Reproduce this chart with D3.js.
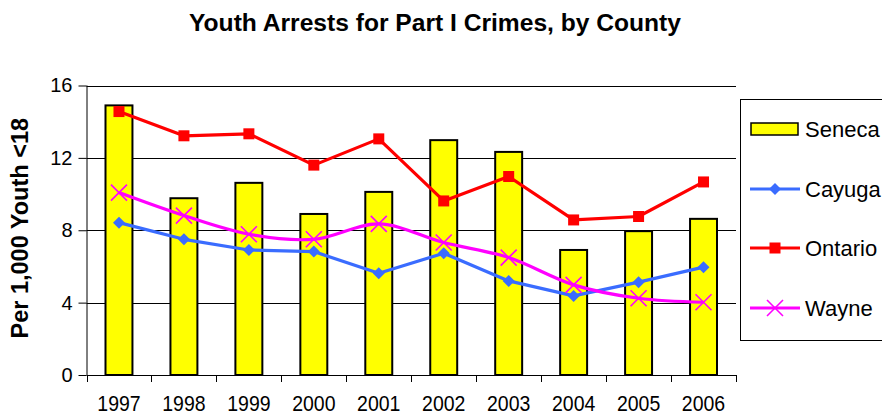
<!DOCTYPE html>
<html>
<head>
<meta charset="utf-8">
<script src="https://cdn.jsdelivr.net/npm/d3@7"></script>
<style>
  html, body { margin: 0; padding: 0; background: #fff; }
  svg { display: block; font-family: Arial, "Liberation Sans", sans-serif; }
</style>
</head>
<body>
<svg id="chart" width="882" height="419"></svg>
<script>
const years = ["1997","1998","1999","2000","2001","2002","2003","2004","2005","2006"];
const seneca  = [14.9, 9.77, 10.62, 8.9, 10.12, 12.98, 12.33, 6.91, 7.95, 8.63];
const cayuga  = [8.42, 7.5, 6.91, 6.82, 5.62, 6.73, 5.2, 4.37, 5.13, 5.96];
const ontario = [14.56, 13.22, 13.33, 11.6, 13.05, 9.62, 10.97, 8.57, 8.76, 10.67];
const wayne   = [10.08, 8.81, 7.78, 7.5, 8.35, 7.32, 6.49, 4.98, 4.24, 4.02];
const yTicks  = [0, 4, 8, 12, 16];
const title = "Youth Arrests for Part I Crimes, by County";
const yTitle = "Per 1,000 Youth <18";

const svg = d3.select("#chart");
const L = 86.5, R = 736, T = 85.5, B = 375;

const x = d3.scaleBand().domain(years).range([L, R]).padding(0);
const y = d3.scaleLinear().domain([0, 16]).range([B, T]);

// title
svg.append("text").attr("x", 435).attr("y", 31).attr("text-anchor", "middle")
  .attr("font-weight", "bold").attr("font-size", 24.6).text(title);

// y axis title
svg.append("text").attr("transform", `translate(28,${(T+B)/2 - 2}) rotate(-90)`)
  .attr("text-anchor", "middle").attr("font-weight", "bold").attr("font-size", 23.5)
  .text(yTitle);

// gridlines
svg.append("g").selectAll("line").data(yTicks.filter(d => d > 0)).join("line")
  .attr("x1", L).attr("x2", R)
  .attr("y1", d => Math.round(y(d)) + 0.5).attr("y2", d => Math.round(y(d)) + 0.5)
  .attr("stroke", "#000").attr("stroke-width", 1);

// bars
const barW = x.bandwidth() * 0.415;
svg.append("g").selectAll("rect").data(seneca).join("rect")
  .attr("x", (d, i) => x(years[i]) + (x.bandwidth() - barW) / 2)
  .attr("y", d => y(d))
  .attr("width", barW)
  .attr("height", d => B - y(d))
  .attr("fill", "#ffff00").attr("stroke", "#000").attr("stroke-width", 2);

// y axis
const yAxis = svg.append("g").attr("transform", `translate(${L},0)`)
  .call(d3.axisLeft(y).tickValues(yTicks).tickSize(8).tickPadding(6).tickFormat(d3.format("d")));
yAxis.select(".domain").attr("stroke", "#000").attr("d", `M0.5,${T}V${B}`);
yAxis.selectAll(".tick line").attr("stroke", "#000");
yAxis.selectAll(".tick text").attr("font-size", 20).attr("fill", "#000")
  .attr("font-family", "Arial, 'Liberation Sans', sans-serif");

// x axis (ticks at category boundaries)
const xg = svg.append("g");
xg.append("line").attr("x1", L).attr("x2", R).attr("y1", B + 0.5).attr("y2", B + 0.5)
  .attr("stroke", "#000");
const bounds = years.map(d => x(d)).concat([R]);
xg.selectAll("line.tk").data(bounds).join("line").attr("class", "tk")
  .attr("x1", d => Math.round(d) + 0.5).attr("x2", d => Math.round(d) + 0.5)
  .attr("y1", B).attr("y2", B + 7).attr("stroke", "#000");
xg.selectAll("text").data(years).join("text")
  .attr("transform", d => `translate(${x(d) + x.bandwidth() / 2},411) scale(1,1.1)`)
  .attr("text-anchor", "middle").attr("font-size", 19.5).text(d => d);

// lines
const cx = (i) => x(years[i]) + x.bandwidth() / 2;
const lineStraight = d3.line().x((d, i) => cx(i)).y(d => y(d));
const lineSmooth = d3.line().x((d, i) => cx(i)).y(d => y(d)).curve(d3.curveCatmullRom.alpha(0));

const series = [
  { name: "Cayuga", data: cayuga, color: "#3a6cff", marker: "diamond", gen: lineStraight },
  { name: "Ontario", data: ontario, color: "#ff0000", marker: "square", gen: lineStraight },
  { name: "Wayne", data: wayne, color: "#ff00ff", marker: "x", gen: lineSmooth }
];

function drawMarker(g, type, px, py, color) {
  if (type === "diamond") {
    g.append("path").attr("d", `M${px},${py-6}L${px+6},${py}L${px},${py+6}L${px-6},${py}Z`).attr("fill", color);
  } else if (type === "square") {
    g.append("rect").attr("x", px - 5.5).attr("y", py - 5.5).attr("width", 11).attr("height", 11).attr("fill", color);
  } else {
    g.append("path").attr("d", `M${px-8},${py-8}L${px+8},${py+8}M${px-8},${py+8}L${px+8},${py-8}`)
      .attr("stroke", color).attr("stroke-width", 1.6).attr("fill", "none");
  }
}

series.forEach(s => {
  const g = svg.append("g");
  g.append("path").datum(s.data).attr("d", s.gen).attr("fill", "none")
    .attr("stroke", s.color).attr("stroke-width", 3.2).attr("stroke-linejoin", "round");
  s.data.forEach((d, i) => drawMarker(g, s.marker, cx(i), y(d), s.color));
});

// legend
const lg = svg.append("g");
lg.append("rect").attr("x", 740.5).attr("y", 99.5).attr("width", 160).attr("height", 241)
  .attr("fill", "#fff").attr("stroke", "#000").attr("stroke-width", 1);
const legendY = [129, 189, 248, 308];
lg.append("rect").attr("x", 751).attr("y", legendY[0] - 6).attr("width", 47).attr("height", 12)
  .attr("fill", "#ffff00").attr("stroke", "#000").attr("stroke-width", 1.5);
lg.append("text").attr("x", 805).attr("y", legendY[0]).attr("dy", "0.36em")
  .attr("font-size", 22).text("Seneca");
series.forEach((s, k) => {
  const ly = legendY[k + 1];
  lg.append("line").attr("x1", 750).attr("x2", 800).attr("y1", ly).attr("y2", ly)
    .attr("stroke", s.color).attr("stroke-width", 3.2);
  drawMarker(lg, s.marker, 775, ly, s.color);
  lg.append("text").attr("x", 805).attr("y", ly).attr("dy", "0.36em")
    .attr("font-size", 22).text(s.name);
});
</script>
</body>
</html>
